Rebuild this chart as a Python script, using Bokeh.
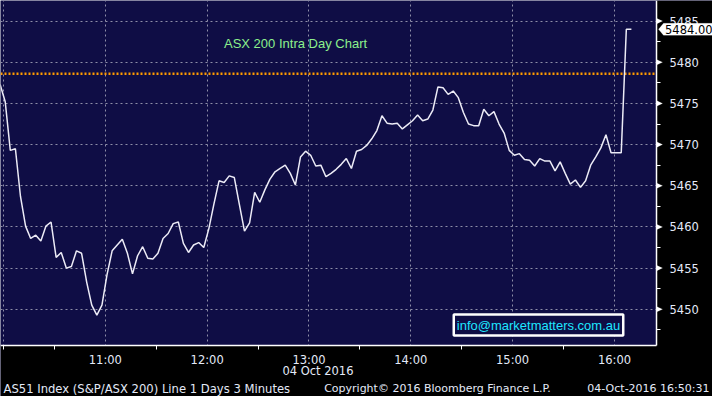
from bokeh.plotting import figure
from bokeh.models import Range1d, FixedTicker, Span, Label, PolyAnnotation, BoxAnnotation
from bokeh.embed import file_html
from bokeh.resources import INLINE

# ---------------- data ----------------
times = [
    "09:58",
    "10:01", "10:04", "10:07", "10:10", "10:13", "10:16", "10:19", "10:22", "10:25", "10:28",
    "10:31", "10:34", "10:37", "10:40", "10:43", "10:46", "10:49", "10:52", "10:55", "10:58",
    "11:01", "11:04", "11:07", "11:10", "11:13", "11:16", "11:19", "11:22", "11:25", "11:28",
    "11:31", "11:34", "11:37", "11:40", "11:43", "11:46", "11:49", "11:52", "11:55", "11:58",
    "12:01", "12:04", "12:07", "12:10", "12:13", "12:16", "12:19", "12:22", "12:25", "12:28",
    "12:31", "12:34", "12:37", "12:40", "12:43", "12:46", "12:49", "12:52", "12:55", "12:58",
    "13:01", "13:04", "13:07", "13:10", "13:13", "13:16", "13:19", "13:22", "13:25", "13:28",
    "13:31", "13:34", "13:37", "13:40", "13:43", "13:46", "13:49", "13:52", "13:55", "13:58",
    "14:01", "14:04", "14:07", "14:10", "14:13", "14:16", "14:19", "14:22", "14:25", "14:28",
    "14:31", "14:34", "14:37", "14:40", "14:43", "14:46", "14:49", "14:52", "14:55", "14:58",
    "15:01", "15:04", "15:07", "15:10", "15:13", "15:16", "15:19", "15:22", "15:25", "15:28",
    "15:31", "15:34", "15:37", "15:40", "15:43", "15:46", "15:49", "15:52", "15:55", "15:58",
    "16:01", "16:04", "16:07", "16:10",
]
prices = [
    5477.3,
    5475.2, 5469.3, 5469.5, 5463.7, 5460.1, 5458.6, 5459.0, 5458.3, 5460.1, 5460.6,
    5456.3, 5456.9, 5455.0, 5455.2, 5457.1, 5456.8, 5453.3, 5450.5, 5449.3, 5450.5,
    5454.2, 5457.1, 5457.8, 5458.5, 5456.8, 5454.3, 5456.5, 5457.6, 5456.2, 5456.1,
    5456.8, 5458.6, 5459.2, 5460.4, 5460.6, 5458.0, 5456.9, 5457.8, 5458.1, 5457.5,
    5459.8, 5462.8, 5465.6, 5465.4, 5466.2, 5466.0, 5462.7, 5459.5, 5460.5, 5464.2,
    5463.0, 5464.5, 5465.8, 5466.7, 5467.1, 5467.5, 5466.5, 5465.1, 5468.5, 5469.2,
    5468.7, 5467.4, 5467.5, 5466.1, 5466.5, 5467.0, 5467.6, 5468.3, 5467.1, 5469.2,
    5469.4, 5469.9, 5470.7, 5471.7, 5473.5, 5472.6, 5472.5, 5472.6, 5471.9, 5472.4,
    5472.9, 5473.6, 5472.9, 5473.1, 5474.2, 5477.0, 5476.9, 5476.1, 5476.5, 5475.7,
    5473.9, 5472.5, 5472.3, 5472.3, 5474.3, 5473.5, 5474.0, 5472.5, 5471.4, 5469.3,
    5468.7, 5468.9, 5468.2, 5468.1, 5467.4, 5468.3, 5468.0, 5468.0, 5466.8, 5467.9,
    5466.5, 5465.2, 5465.7, 5464.8, 5465.6, 5467.5, 5468.5, 5469.6, 5471.2, 5469.0,
    5469.0, 5469.0, 5484.0, 5484.0,
]
last_price = 5484.00
prev_close = 5478.6
y_ticks = [5450, 5455, 5460, 5465, 5470, 5475, 5480, 5485]
y_minor = [5447.5, 5452.5, 5457.5, 5462.5, 5467.5, 5472.5, 5477.5, 5482.5]
x_tick_hours = [11, 12, 13, 14, 15, 16]
x_tick_labels = ["11:00", "12:00", "13:00", "14:00", "15:00", "16:00"]
x_grid_hours = [10, 11, 12, 13, 14, 15, 16]
x_minor_hours = [10, 10.5, 11.5, 12.5, 13.5, 14.5, 15.5]
title_text = "ASX 200 Intra Day Chart"
info_text = "info@marketmatters.com.au"
date_text = "04 Oct 2016"
footer_left = "AS51 Index (S&P/ASX 200) Line 1 Days 3 Minutes"
footer_mid = "Copyright\u00a9 2016 Bloomberg Finance L.P."
footer_right = "04-Oct-2016 16:50:31"


def to_hours(s):
    h, m = s.split(":")
    return int(h) + int(m) / 60.0


xs = [to_hours(t) for t in times]

# ---------------- layout ----------------
W, H = 712, 396
# chart area (navy) inside the canvas, in pixels
AL, AR, AT, AB = 2, 656, 0, 345
NX0, NX1 = 9.99, 16.413       # time span of the navy area (hours)
NY0, NY1 = 5445.6, 5487.5     # value span of the navy area
dxpp = (NX1 - NX0) / (AR - AL)
dypp = (NY1 - NY0) / (AB - AT)
xr = Range1d(NX0 - AL * dxpp, NX1 + (W - AR) * dxpp)
yr = Range1d(NY0 - (H - AB) * dypp, NY1 + AT * dypp)

NAVY = "#0f0d45"
TXT = "#e4eaf8"
GRID = "#8e8ea8"

p = figure(width=W, height=H, output_backend="svg", toolbar_location=None,
           x_range=xr, y_range=yr, y_axis_location="right",
           min_border_left=0, min_border_right=0,
           min_border_top=0, min_border_bottom=0)
p.background_fill_color = NAVY
p.border_fill_color = "black"
p.outline_line_color = None

p.xgrid.ticker = FixedTicker(ticks=x_grid_hours)
for g in (p.xgrid[0], p.ygrid[0]):
    g.grid_line_color = GRID
    g.grid_line_dash = "2 3"
    g.grid_line_width = 1

p.add_layout(Span(location=prev_close, dimension="width", line_color="#ff9a00",
                  line_width=2.5, line_dash="2 2", level="underlay"))

# black margins (below and right of the chart area)
p.add_layout(BoxAnnotation(left=NX1, fill_color="black", fill_alpha=1,
                           line_color=None, level="underlay"))
p.add_layout(BoxAnnotation(top=NY0, fill_color="black", fill_alpha=1,
                           line_color=None, level="underlay"))

xa = p.xaxis[0]
xa.fixed_location = NY0
xa.bounds = (xr.start, NX1)
xa.ticker = FixedTicker(ticks=x_tick_hours, minor_ticks=x_minor_hours)
xa.major_label_overrides = dict(zip(x_tick_hours, x_tick_labels))
xa.major_tick_out = 0
xa.major_tick_in = 0
xa.minor_tick_out = 4
xa.minor_tick_in = 0
xa.minor_tick_line_color = "white"
xa.axis_line_color = "white"
xa.axis_line_width = 1.5
xa.major_label_text_color = TXT
xa.major_label_text_font = "DejaVu Sans"
xa.major_label_text_font_size = "11.5px"
xa.major_label_standoff = 3

ya = p.yaxis[0]
ya.fixed_location = NX1
ya.bounds = (NY0, NY1)
ya.ticker = FixedTicker(ticks=y_ticks, minor_ticks=y_minor)
ya.major_tick_out = 0
ya.major_tick_in = 0
ya.minor_tick_out = 4
ya.minor_tick_in = 0
ya.minor_tick_line_color = "white"
ya.axis_line_color = "white"
ya.axis_line_width = 1.5
ya.major_label_text_color = TXT
ya.major_label_text_font = "DejaVu Sans"
ya.major_label_text_font_size = "11.5px"
ya.major_label_standoff = 9

p.line(xs, prices, line_color="#ecebf6", line_width=1.5)

# triangles on the right axis major ticks
for t in y_ticks:
    p.add_layout(PolyAnnotation(xs=[NX1, NX1 + 6 * dxpp, NX1],
                                ys=[t + 2.8 * dypp, t, t - 2.8 * dypp],
                                fill_color="white", fill_alpha=1, line_color="white",
                                line_width=0.5))

# last value tag
p.add_layout(PolyAnnotation(
    xs=[NX1 + 2 * dxpp, NX1 + 7 * dxpp, NX1 + 70 * dxpp, NX1 + 70 * dxpp, NX1 + 7 * dxpp],
    ys=[last_price, last_price + 6 * dypp, last_price + 6 * dypp,
        last_price - 6 * dypp, last_price - 6 * dypp],
    fill_color="white", fill_alpha=1, line_color="white", line_width=0.5))
p.add_layout(Label(x=NX1 + 8.5 * dxpp, y=last_price, text=f"{last_price:.2f}",
                   text_align="left", text_baseline="middle", text_color="black",
                   text_font="DejaVu Sans", text_font_size="11.5px"))

# title
p.add_layout(Label(x=223.5, y=H - 43, x_units="screen", y_units="screen", text=title_text,
                   text_align="left", text_baseline="middle", text_color="#8cf08c",
                   text_font="Liberation Sans", text_font_size="13px"))

# info box
p.add_layout(Label(x=538, y=H - 324.5, x_units="screen", y_units="screen", text=info_text,
                   text_align="center", text_baseline="middle", text_color="#1ee6ff",
                   text_font="Liberation Sans", text_font_size="13px",
                   background_fill_color=NAVY, background_fill_alpha=1,
                   border_line_color="white", border_line_width=2.5, padding=3))

# date under the axis
p.add_layout(Label(x=353, y=H - 370.5, x_units="screen", y_units="screen", text=date_text,
                   text_align="right", text_baseline="middle", text_color=TXT,
                   text_font="DejaVu Sans", text_font_size="11.5px"))

# footer
for txt, xx, al, fs in ((footer_left, 3, "left", "11.6px"),
                        (footer_mid, 437, "center", "11px"),
                        (footer_right, 709, "right", "11px")):
    p.add_layout(Label(x=xx, y=H - 388, x_units="screen", y_units="screen", text=txt,
                       text_align=al, text_baseline="middle", text_color=TXT,
                       text_font="DejaVu Sans", text_font_size=fs))

open("out.html", "w").write(file_html(p, INLINE))
